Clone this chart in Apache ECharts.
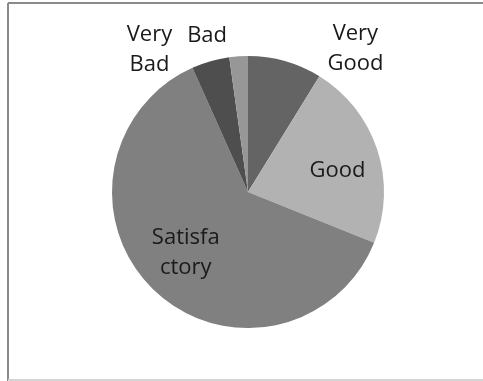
<!DOCTYPE html>
<html>
<head>
<meta charset="utf-8">
<script src="https://cdn.jsdelivr.net/npm/echarts@6/dist/echarts.min.js"></script>
<style>
html,body{margin:0;padding:0;background:#fff;}
#c{width:483px;height:381px;}
</style>
</head>
<body>
<div id="c"></div>
<script>
const categories = ['Very Good', 'Good', 'Satisfactory', 'Very Bad', 'Bad'];
const labelTexts = ['Very\nGood', 'Good', 'Satisfa\nctory', 'Very\nBad', 'Bad'];
const values = [8.8, 22.3, 62.2, 4.5, 2.2];
const colors = ['#646464', '#b2b2b2', '#808080', '#4e4e4e', '#979797'];
const labelOffsets = [[88, -75], [22, 1], [-13, 10], [-79, -74], [-36, -85]];

const chart = echarts.init(document.getElementById('c'), null, {renderer: 'canvas'});
chart.setOption({
  animation: false,
  backgroundColor: '#ffffff',
  graphic: [
    {type: 'line', shape: {x1: 8, y1: 3, x2: 483, y2: 3}, style: {stroke: '#8a8a8a', lineWidth: 2}},
    {type: 'line', shape: {x1: 8, y1: 3, x2: 8, y2: 381}, style: {stroke: '#8a8a8a', lineWidth: 2}},
    {type: 'line', shape: {x1: 8, y1: 380, x2: 483, y2: 380}, style: {stroke: '#d4d4d4', lineWidth: 2}}
  ],
  series: [{
    type: 'pie',
    center: [248, 192],
    radius: [0, 136],
    startAngle: 90,
    clockwise: true,
    avoidLabelOverlap: false,
    itemStyle: {borderWidth: 0},
    label: {
      show: true,
      position: 'inside',
      fontFamily: 'Open Sans',
      fontSize: 22,
      lineHeight: 30,
      color: '#1a1a1a',
      align: 'center',
      verticalAlign: 'middle'
    },
    labelLine: {show: false},
    emphasis: {disabled: true},
    data: categories.map((name, i) => ({
      name: name,
      value: values[i],
      itemStyle: {color: colors[i]},
      label: {formatter: labelTexts[i], offset: labelOffsets[i]}
    }))
  }]
});
</script>
</body>
</html>
